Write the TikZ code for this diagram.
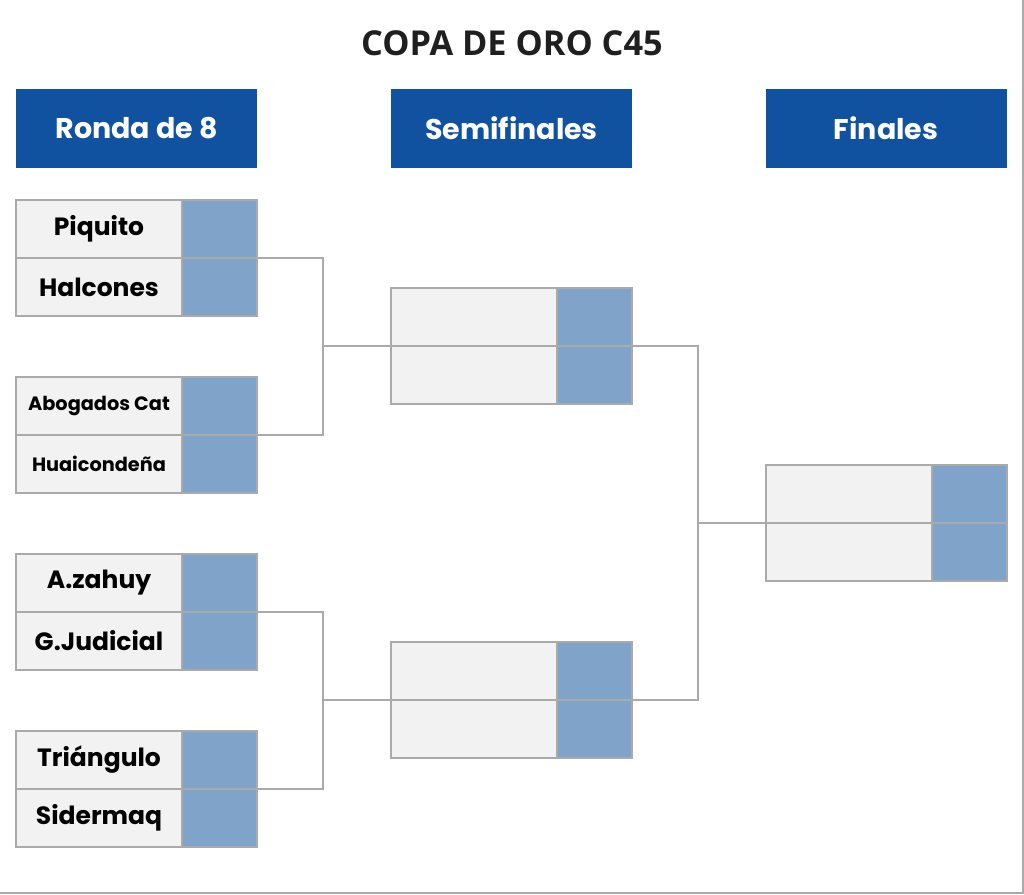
\documentclass[tikz,border=0pt]{standalone}
\usepackage{fontspec}
\setmainfont{Poppins}
\newfontfamily\titlefont{Open Sans}
\definecolor{hdrblue}{HTML}{1052A0}
\definecolor{scoreblue}{HTML}{80A3C9}
\definecolor{slotgray}{HTML}{F2F2F2}
\definecolor{linegray}{HTML}{AAAAAA}
\begin{document}
\begin{tikzpicture}[x=1pt,y=-1pt,
  hdr/.style={fill=hdrblue,minimum width=241pt,minimum height=79pt,inner sep=0pt,outer sep=0pt,text=white,font=\fontsize{28.5}{31}\selectfont\bfseries},
  namebox/.style={fill=slotgray,draw=linegray,line width=1.3pt,minimum width=166pt,minimum height=58pt,inner sep=0pt,outer sep=0pt,font=\fontsize{25}{28}\selectfont\bfseries},
  smallname/.style={namebox,font=\fontsize{19.3}{21}\selectfont\bfseries},
  scorebox/.style={fill=scoreblue,draw=linegray,line width=1.3pt,minimum width=75pt,minimum height=58pt,inner sep=0pt,outer sep=0pt},
  conn/.style={draw=linegray,line width=1.3pt}]
\useasboundingbox (0,0) rectangle (1024,894);
\fill[white] (0,0) rectangle (1024,894);
\draw[linegray,line width=1.5pt] (1023,0) -- (1023,893) -- (0,893);
\node[font=\titlefont\fontsize{34.3}{37}\selectfont\bfseries,text=black!88] (title) at (512,43) {COPA DE ORO C45};
\node[hdr] (h1) at (136.5,128.5) {Ronda de 8};
\node[hdr] (h2) at (511.5,128.5) {Semifinales};
\node[hdr] (h3) at (886,128.5) {Finales};
% Round of 8
\node[namebox] (t1) at (99,229) {Piquito};
\node[scorebox] (s1) at (219.5,229) {};
\node[namebox] (t2) at (99,287) {Halcones};
\node[scorebox] (s2) at (219.5,287) {};
\node[smallname] (t3) at (99,406) {Abogados Cat};
\node[scorebox] (s3) at (219.5,406) {};
\node[smallname] (t4) at (99,464) {Huaicondeña};
\node[scorebox] (s4) at (219.5,464) {};
\node[namebox] (t5) at (99,583) {A.zahuy};
\node[scorebox] (s5) at (219.5,583) {};
\node[namebox] (t6) at (99,641) {G.Judicial};
\node[scorebox] (s6) at (219.5,641) {};
\node[namebox] (t7) at (99,760) {Triángulo};
\node[scorebox] (s7) at (219.5,760) {};
\node[namebox] (t8) at (99,818) {Sidermaq};
\node[scorebox] (s8) at (219.5,818) {};
% Semifinals
\node[namebox] (q1) at (474,317) {};
\node[scorebox] (r1) at (594.5,317) {};
\node[namebox] (q2) at (474,375) {};
\node[scorebox] (r2) at (594.5,375) {};
\node[namebox] (q3) at (474,671) {};
\node[scorebox] (r3) at (594.5,671) {};
\node[namebox] (q4) at (474,729) {};
\node[scorebox] (r4) at (594.5,729) {};
% Final
\node[namebox] (f1) at (849,494) {};
\node[scorebox] (g1) at (969.5,494) {};
\node[namebox] (f2) at (849,552) {};
\node[scorebox] (g2) at (969.5,552) {};
% Connectors
\coordinate (j1) at (323,346);
\coordinate (j2) at (323,700);
\coordinate (j3) at (698,523);
\draw[conn] (s1.south east) -| (j1) |- (s3.south east);
\draw[conn] (j1) -- (q1.south west);
\draw[conn] (s5.south east) -| (j2) |- (s7.south east);
\draw[conn] (j2) -- (q3.south west);
\draw[conn] (r1.south east) -| (j3) |- (r3.south east);
\draw[conn] (j3) -- (f1.south west);
\end{tikzpicture}
\end{document}
